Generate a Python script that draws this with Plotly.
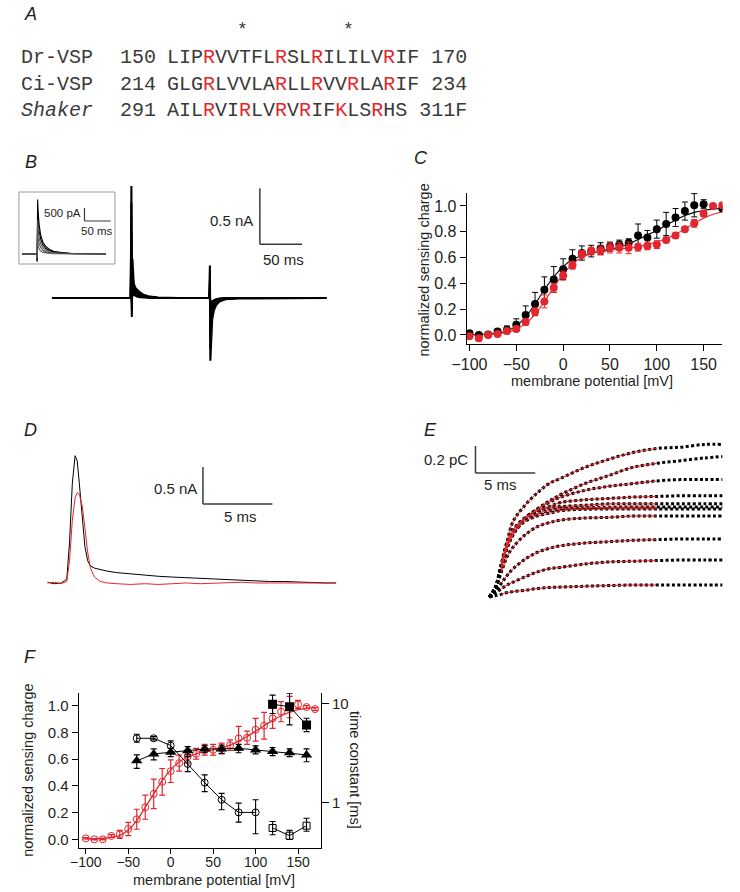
import plotly.graph_objects as go

W, H = 740, 892


def fx(p):
    return p / W


def fy(p):
    return 1 - p / H


RED = "#e3262d"
TXT = "#231f20"
SEQC = "#3a3a3a"
FONT = "Liberation Sans"
MONO = "Liberation Mono"

# ---------------- Panel A : sequences ----------------
seq_names = ["Dr-VSP", "Ci-VSP", "<i>Shaker</i>"]
seq_start = ["150", "214", "291"]
seq_residues = ["LIPRVVTFLRSLRILILVRIF", "GLGRLVVLARLLRVVRLARIF", "AILRVIRLVRVRIFKLSRHS"]
seq_end = ["170", "234", "311F"]
seq_red_idx = [[3, 9, 12, 18], [3, 9, 12, 15, 18], [3, 6, 9, 11, 14, 17]]
asterisk_idx = [6, 15]

# ---------------- Panel B : gating currents ----------------
B_t = [0, 93, 93.8, 94.3, 95, 96.5, 98.5, 101, 104, 108, 114, 125, 150,
       186, 186.8, 187.3, 188, 189.5, 191.5, 194, 198, 205, 220, 325]
B_traces = [
    [0, 0, 1.0, -0.17, 0.35, 0.13, 0.09, 0.07, 0.05, 0.03, 0.015, 0.005, 0,
     0, 0.29, -0.56, -0.38, -0.19, -0.11, -0.065, -0.032, -0.011, -0.004, 0],
    [0, 0, 0.85, -0.1, 0.25, 0.1, 0.07, 0.05, 0.035, 0.02, 0.01, 0.003, 0,
     0, 0.15, -0.45, -0.28, -0.14, -0.085, -0.048, -0.024, -0.008, 0, 0],
    [0, 0, 0.6, -0.05, 0.18, 0.08, 0.05, 0.035, 0.025, 0.015, 0.007, 0.002, 0,
     0, 0.08, -0.32, -0.19, -0.095, -0.057, -0.033, -0.014, -0.005, 0, 0],
    [0, 0, 0.4, -0.03, 0.12, 0.05, 0.035, 0.025, 0.015, 0.008, 0.004, 0, 0,
     0, 0.05, -0.19, -0.11, -0.056, -0.033, -0.019, -0.008, 0, 0, 0],
    [0, 0, 0.2, -0.02, 0.06, 0.03, 0.02, 0.012, 0.007, 0.004, 0.002, 0, 0,
     0, 0.03, -0.09, -0.055, -0.028, -0.017, -0.01, -0.004, 0, 0, 0],
]
B_bar = dict(t0=246, i0=0.48, dt=50, di=0.5)

Bin_t = [0, 28, 29, 30, 31, 33, 36, 40, 45, 52, 60, 75, 95, 160]
Bin_traces = [
    [0, 0, -0.3, 2.1, 1.6, 1.1, 0.7, 0.45, 0.3, 0.18, 0.1, 0.05, 0.02, 0],
    [0, 0, -0.25, 1.7, 1.3, 0.85, 0.55, 0.35, 0.22, 0.13, 0.08, 0.04, 0.015, 0],
    [0, 0, -0.2, 1.3, 0.95, 0.6, 0.38, 0.24, 0.15, 0.09, 0.05, 0.025, 0.01, 0],
    [0, 0, -0.15, 0.9, 0.6, 0.38, 0.24, 0.15, 0.09, 0.05, 0.03, 0.015, 0.005, 0],
    [0, 0, -0.1, 0.5, 0.3, 0.18, 0.11, 0.07, 0.04, 0.02, 0.01, 0.005, 0, 0],
]
Bin_bar = dict(t0=119, i0=1.27, dt=50, di=0.5)

# ---------------- Panel C : Q-V ----------------
C_V_black = [-100, -90, -80, -70, -60, -50, -40, -30, -20, -10, 0, 10, 20, 30, 40,
             50, 60, 70, 80, 90, 100, 110, 120, 130, 140, 150, 170]
C_black = [0.013, 0.0, 0.003, 0.026, 0.04, 0.08, 0.155, 0.24, 0.35, 0.43, 0.51, 0.59,
           0.635, 0.65, 0.67, 0.685, 0.70, 0.715, 0.77, 0.755, 0.82, 0.86, 0.91, 0.96,
           1.005, 1.013, 0.98]
C_black_err = [0.005, 0.005, 0.005, 0.01, 0.03, 0.045, 0.07, 0.09, 0.10, 0.10, 0.08, 0.07,
               0.055, 0.045, 0.045, 0.035, 0.035, 0.03, 0.09, 0.055, 0.07, 0.09, 0.07,
               0.07, 0.09, 0.035, 0.01]
C_V_red = [-100, -90, -80, -70, -60, -50, -40, -30, -20, -10, 0, 10, 20, 30, 40,
           50, 60, 70, 80, 90, 100, 110, 120, 130, 140, 150, 160, 170]
C_red = [-0.01, -0.025, 0.0, 0.008, 0.03, 0.047, 0.10, 0.18, 0.26, 0.365, 0.46, 0.54,
         0.625, 0.65, 0.655, 0.675, 0.675, 0.675, 0.68, 0.69, 0.70, 0.735, 0.77, 0.82,
         0.865, 0.94, 1.0, 1.005]
C_red_err = [0.01, 0.02, 0.01, 0.01, 0.02, 0.02, 0.025, 0.03, 0.05, 0.035, 0.035, 0.03,
             0.03, 0.03, 0.035, 0.04, 0.04, 0.045, 0.03, 0.03, 0.03, 0.02, 0.02, 0.015,
             0.03, 0.02, 0.01, 0.02]
C_fit_V = [-100, -90, -80, -70, -60, -50, -40, -30, -20, -10, 0, 10, 20, 30, 40, 50,
           60, 70, 80, 90, 100, 110, 120, 130, 140, 150, 160, 170]
C_fit_black = [0.002, 0.004, 0.008, 0.015, 0.03, 0.07, 0.14, 0.24, 0.35, 0.45, 0.53, 0.585,
               0.615, 0.635, 0.65, 0.665, 0.68, 0.705, 0.74, 0.775, 0.81, 0.85, 0.89,
               0.925, 0.95, 0.965, 0.975, 0.98]
C_fit_red = [0.0, 0.002, 0.005, 0.01, 0.02, 0.045, 0.09, 0.16, 0.26, 0.37, 0.47, 0.55,
             0.60, 0.63, 0.645, 0.655, 0.665, 0.675, 0.685, 0.70, 0.72, 0.745, 0.78,
             0.82, 0.865, 0.905, 0.935, 0.955]
C_xticks = [-100, -50, 0, 50, 100, 150]
Q_yticks = [0.0, 0.2, 0.4, 0.6, 0.8, 1.0]

# ---------------- Panel D : averaged currents ----------------
D_t = [0, 0.5, 1.0, 1.4, 1.6, 1.8, 2.0, 2.15, 2.3, 2.5, 2.7, 2.9, 3.1, 3.4, 3.8, 4.3, 5,
       6, 7, 8, 9, 10, 11, 12, 13, 14, 15, 16, 17, 18, 19, 20, 20.8]
D_black = [0.01, -0.01, 0.0, 0.05, 0.55, 1.35, 1.72, 1.65, 1.35, 0.9, 0.5, 0.3, 0.23, 0.2,
           0.18, 0.16, 0.14, 0.12, 0.11, 0.09, 0.08, 0.07, 0.06, 0.05, 0.04, 0.04, 0.03,
           0.02, 0.02, 0.01, 0.01, 0.0, 0.0]
D_red = [0.0, 0.01, -0.01, 0.02, 0.3, 0.85, 1.15, 1.22, 1.2, 1.05, 0.75, 0.42, 0.2, 0.08,
         0.02, 0.0, -0.01, -0.02, -0.01, -0.02, -0.01, 0.0, -0.01, 0.0, 0.0, 0.01, 0.0,
         0.0, 0.01, 0.0, 0.0, 0.0, 0.0]
D_bar = dict(t0=11.2, i0=1.067, dt=5, di=0.5)

# ---------------- Panel E : charge integrals ----------------
E_t = [0, 0.5, 1, 1.5, 2, 3, 4, 5, 6, 8, 10, 12, 14, 16, 18, 19.5]
E_traces = [
    [0, .06, .22, .41, .56, .68, .77, .84, .88, .96, 1.02, 1.07, 1.10, 1.11, 1.13, 1.13],
    [0, .06, .21, .37, .47, .58, .65, .71, .76, .84, .90, .96, .99, 1.01, 1.03, 1.04],
    [0, .06, .21, .36, .46, .58, .65, .70, .74, .79, .82, .84, .86, .87, .87, .87],
    [0, .07, .22, .37, .47, .58, .64, .67, .70, .72, .73, .74, .745, .75, .75, .75],
    [0, .07, .24, .41, .50, .59, .64, .66, .67, .68, .69, .69, .69, .69, .69, .69],
    [0, .07, .24, .39, .49, .58, .62, .64, .655, .66, .665, .667, .667, .667, .667, .667],
    [0, .07, .22, .37, .47, .56, .60, .62, .64, .65, .652, .652, .652, .652, .652, .652],
    [0, .06, .18, .30, .37, .46, .52, .55, .57, .585, .59, .60, .60, .60, .60, .60],
    [0, .04, .10, .16, .21, .28, .33, .36, .38, .40, .41, .42, .425, .43, .43, .43],
    [0, .03, .06, .09, .11, .15, .185, .21, .22, .245, .26, .265, .27, .274, .274, .274],
    [0, .01, .02, .033, .04, .05, .063, .07, .074, .08, .085, .089, .089, .089, .089, .089],
]
E_fit_window = (1.0, 14.5)
E_bar = dict(t0=-1.15, q0=0.919, dt=5, dq=0.2)

# ---------------- Panel F : Q-V and time constants ----------------
F_V = [-100, -90, -80, -70, -60, -50, -40, -30, -20, -10, 0, 10, 20, 30, 40, 50, 60, 70,
       80, 90, 100, 110, 120, 130, 140, 150, 160, 170]
F_red = [0.007, 0.0, 0.0, 0.025, 0.037, 0.077, 0.15, 0.24, 0.34, 0.43, 0.51, 0.57, 0.62,
         0.64, 0.67, 0.67, 0.68, 0.705, 0.755, 0.76, 0.82, 0.85, 0.905, 0.955, 0.99,
         1.01, 0.99, 0.975]
F_red_err = [0.005, 0.005, 0.005, 0.01, 0.03, 0.05, 0.075, 0.09, 0.11, 0.1, 0.085, 0.06,
             0.05, 0.04, 0.04, 0.04, 0.04, 0.04, 0.09, 0.05, 0.085, 0.1, 0.075, 0.075,
             0.08, 0.03, 0.01, 0.01]
F_fit = [0.003, 0.004, 0.008, 0.015, 0.03, 0.07, 0.14, 0.24, 0.34, 0.44, 0.52, 0.58,
         0.615, 0.64, 0.655, 0.67, 0.685, 0.705, 0.735, 0.77, 0.81, 0.85, 0.89, 0.925,
         0.95, 0.97, 0.98, 0.985]
F_circ_V = [-40, -20, 0, 20, 40, 60, 80, 100]
F_circ = [4.43, 4.43, 3.74, 2.44, 1.58, 1.06, 0.79, 0.79]
F_circ_hi = [4.86, 4.6, 4.17, 2.89, 1.89, 1.23, 0.98, 1.06]
F_circ_lo = [4.04, 4.27, 3.25, 2.04, 1.28, 0.84, 0.63, 0.48]
F_osq_V = [120, 140, 160]
F_osq = [0.55, 0.46, 0.58]
F_osq_hi = [0.64, 0.52, 0.69]
F_osq_lo = [0.47, 0.42, 0.51]
F_tri_V = [-40, -20, 0, 20, 40, 60, 80, 100, 120, 140, 160]
F_tri = [2.62, 3.08, 3.20, 3.32, 3.46, 3.46, 3.51, 3.38, 3.25, 3.17, 3.01]
F_tri_hi = [3.01, 3.46, 3.51, 3.65, 3.74, 3.79, 3.85, 3.71, 3.57, 3.46, 3.46]
F_tri_lo = [2.2, 2.68, 2.89, 3.01, 3.17, 3.12, 3.17, 3.08, 2.96, 2.89, 2.57]
F_sq_V = [120, 140, 160]
F_sq = [9.77, 9.25, 6.04]
F_sq_hi = [12.1, 12.6, 7.05]
F_sq_lo = [7.9, 6.05, 5.17]
F_tau_ticks = [1, 10]

fig = go.Figure()

# ---- B main
for tr in B_traces:
    fig.add_trace(go.Scatter(x=B_t, y=tr, xaxis="x", yaxis="y", mode="lines",
                             line=dict(color="black", width=2.1), hoverinfo="skip"))
# ---- B inset
for k, tr in enumerate(Bin_traces):
    fig.add_trace(go.Scatter(x=Bin_t, y=tr, xaxis="x2", yaxis="y2", mode="lines",
                             line=dict(color="black" if k < 2 else "#555", width=1.1),
                             hoverinfo="skip"))

# ---- C
fig.add_trace(go.Scatter(x=C_fit_V, y=C_fit_black, xaxis="x3", yaxis="y3", mode="lines",
                         line=dict(color="black", width=1.1, shape="spline"), hoverinfo="skip"))
fig.add_trace(go.Scatter(x=C_fit_V, y=C_fit_red, xaxis="x3", yaxis="y3", mode="lines",
                         line=dict(color=RED, width=1.1, shape="spline"), hoverinfo="skip"))
fig.add_trace(go.Scatter(x=C_V_black, y=C_black, xaxis="x3", yaxis="y3", mode="markers",
                         marker=dict(color="black", size=8),
                         error_y=dict(type="data", array=C_black_err, color="black",
                                      thickness=1, width=3)))
fig.add_trace(go.Scatter(x=C_V_red, y=C_red, xaxis="x3", yaxis="y3", mode="markers",
                         marker=dict(color=RED, size=8),
                         error_y=dict(type="data", array=C_red_err, color=RED,
                                      thickness=1, width=3)))

# ---- D
fig.add_trace(go.Scatter(x=D_t, y=D_black, xaxis="x4", yaxis="y4", mode="lines",
                         line=dict(color="black", width=1), hoverinfo="skip"))
fig.add_trace(go.Scatter(x=D_t, y=D_red, xaxis="x4", yaxis="y4", mode="lines",
                         line=dict(color=RED, width=1), hoverinfo="skip"))

# ---- E
for tr in E_traces:
    fig.add_trace(go.Scatter(x=E_t, y=tr, xaxis="x5", yaxis="y5", mode="lines",
                             line=dict(color="black", width=3, dash="3px,2.4px",
                                       shape="spline"), hoverinfo="skip"))
for tr in E_traces:
    sel = [i for i, t in enumerate(E_t) if E_fit_window[0] <= t <= E_fit_window[1]]
    fig.add_trace(go.Scatter(x=[E_t[i] for i in sel], y=[tr[i] for i in sel],
                             xaxis="x5", yaxis="y5", mode="lines",
                             line=dict(color=RED, width=1, shape="spline"), hoverinfo="skip"))

# ---- F
fig.add_trace(go.Scatter(x=F_V, y=F_fit, xaxis="x6", yaxis="y6", mode="lines",
                         line=dict(color=RED, width=1.3, shape="spline"), hoverinfo="skip"))
fig.add_trace(go.Scatter(x=F_V, y=F_red, xaxis="x6", yaxis="y6", mode="markers",
                         marker=dict(symbol="circle-open", color=RED, size=7,
                                     line=dict(width=1)),
                         error_y=dict(type="data", array=F_red_err, color=RED,
                                      thickness=1.2, width=3)))


def asym(v, hi, lo):
    return dict(type="data", symmetric=False,
                array=[h - x for h, x in zip(hi, v)],
                arrayminus=[x - l for x, l in zip(v, lo)],
                color="black", thickness=1.1, width=3)


fig.add_trace(go.Scatter(x=F_circ_V, y=F_circ, xaxis="x6", yaxis="y7", mode="lines+markers",
                         line=dict(color="black", width=1),
                         marker=dict(symbol="circle-open", color="black", size=7,
                                     line=dict(width=1)),
                         error_y=asym(F_circ, F_circ_hi, F_circ_lo)))
fig.add_trace(go.Scatter(x=F_osq_V, y=F_osq, xaxis="x6", yaxis="y7", mode="lines+markers",
                         line=dict(color="black", width=1),
                         marker=dict(symbol="square-open", color="black", size=7,
                                     line=dict(width=1)),
                         error_y=asym(F_osq, F_osq_hi, F_osq_lo)))
fig.add_trace(go.Scatter(x=F_tri_V, y=F_tri, xaxis="x6", yaxis="y7", mode="lines+markers",
                         line=dict(color="black", width=1),
                         marker=dict(symbol="triangle-up", color="black", size=10),
                         error_y=asym(F_tri, F_tri_hi, F_tri_lo)))
fig.add_trace(go.Scatter(x=F_sq_V, y=F_sq, xaxis="x6", yaxis="y7", mode="lines+markers",
                         line=dict(color="black", width=1),
                         marker=dict(symbol="square", color="black", size=9),
                         error_y=asym(F_sq, F_sq_hi, F_sq_lo)))

# ---------------- annotations ----------------
ann = []


def text(t, x, y, size, xanchor="center", yanchor="middle", color=TXT, family=FONT, angle=0):
    ann.append(dict(text=t, x=fx(x), y=fy(y), xref="paper", yref="paper", showarrow=False,
                    xanchor=xanchor, yanchor=yanchor, textangle=angle, borderpad=0,
                    font=dict(size=size, color=color, family=family)))


# panel letters
for lab, (px, py) in {"A": (16, 14), "B": (16, 162), "C": (414, 158), "D": (16, 430),
                      "E": (424, 430), "F": (15, 657)}.items():
    text("<i>%s</i>" % lab, px, py, 18)

# sequences
CH = 12.05
row_y = [58, 84, 110]
for k in range(3):
    text(seq_names[k], 5, row_y[k], 20, xanchor="left", color=SEQC, family=MONO)
    text(seq_start[k], 106, row_y[k], 20, xanchor="left", color=SEQC, family=MONO)
    s = ""
    for i, ch in enumerate(seq_residues[k]):
        if i in seq_red_idx[k]:
            s += '<span style="color:%s">%s</span>' % (RED, ch)
        else:
            s += ch
    s += "\u00a0" + seq_end[k]
    text(s, 154, row_y[k], 20, xanchor="left", color=SEQC, family=MONO)
for i in asterisk_idx:
    text("*", 154 + (i + 0.5) * CH, 30, 18, color=SEQC, family=MONO)

# B
text("0.5 nA", 221, 220, 15)
text("50 ms", 274.5, 260, 15)
text("500 pA", 68, 213, 11.5, xanchor="right")
text("50 ms", 84, 231, 11.5)
# C
text("normalized sensing charge", 417, 270, 14.5, angle=-90)
text("membrane potential [mV]", 589, 381, 14.5)
# D
text("0.5 nA", 163.5, 488, 15)
text("5 ms", 230, 516, 15)
# E
text("0.2 pC", 463, 459, 15, xanchor="right")
text("5 ms", 496, 484, 15)
# F
text("normalized sensing charge", 13, 770, 14.5, angle=-90)
text("time constant [ms]", 347, 770, 14.5, angle=90)
text("membrane potential [mV]", 203, 880, 14.5)

# ---------------- shapes (scale bars, inset frame) ----------------
shapes = []


def bar(xr, yr, x0, y0, dx, dy, w=1.5):
    shapes.append(dict(type="line", xref=xr, yref=yr, x0=x0, x1=x0, y0=y0, y1=y0 + dy,
                       line=dict(color="#3a3a3a", width=w)))
    shapes.append(dict(type="line", xref=xr, yref=yr, x0=x0, x1=x0 + dx, y0=y0, y1=y0,
                       line=dict(color="#3a3a3a", width=w)))


bar("x", "y", B_bar["t0"], B_bar["i0"], B_bar["dt"], B_bar["di"])
bar("x2", "y2", Bin_bar["t0"], Bin_bar["i0"], Bin_bar["dt"], Bin_bar["di"], w=1.2)
bar("x4", "y4", D_bar["t0"], D_bar["i0"], D_bar["dt"], D_bar["di"])
bar("x5", "y5", E_bar["t0"], E_bar["q0"], E_bar["dt"], E_bar["dq"])
shapes.append(dict(type="rect", xref="paper", yref="paper", x0=fx(4), x1=fx(102),
                   y0=fy(264), y1=fy(192), line=dict(color="#9a9a9a", width=1)))


def axis_style(size, ticklen=6):
    return dict(showline=True, linecolor="black", linewidth=1, ticks="outside",
                ticklen=ticklen, tickwidth=1, tickcolor="black", showgrid=False,
                zeroline=False, tickfont=dict(family=FONT, size=size, color=TXT))


fig.update_layout(
    width=W, height=H, margin=dict(l=0, r=0, t=0, b=0),
    paper_bgcolor="white", plot_bgcolor="white", showlegend=False,
    annotations=ann, shapes=shapes,
    xaxis=dict(domain=[fx(38), fx(318)], range=[0, 325], visible=False),
    yaxis=dict(domain=[fy(375), fy(180)], range=[-0.6875, 1.054], visible=False),
    xaxis2=dict(domain=[fx(7), fx(101)], range=[0, 175], visible=False, anchor="y2"),
    yaxis2=dict(domain=[fy(262), fy(194)], range=[-0.31, 2.31], visible=False, anchor="x2"),
    xaxis3=dict(domain=[fx(461), fx(722)], range=[-103, 170], anchor="y3",
                tickvals=C_xticks, **axis_style(16)),
    yaxis3=dict(domain=[fy(344), fy(193)], range=[-0.07, 1.1], anchor="x3",
                tickvals=Q_yticks, tickformat=".1f", **axis_style(16)),
    xaxis4=dict(domain=[fx(33), fx(328)], range=[0, 20.8], visible=False, anchor="y4"),
    yaxis4=dict(domain=[fy(590), fy(450)], range=[-0.095, 1.797], visible=False, anchor="x4"),
    xaxis5=dict(domain=[fx(460), fx(725)], range=[-1.97, 19.75], visible=False, anchor="y5"),
    yaxis5=dict(domain=[fy(600), fy(440)], range=[-0.022, 1.163], visible=False, anchor="x5"),
    xaxis6=dict(domain=[fx(65), fx(312.3)], range=[-108.4, 177], anchor="y6",
                tickvals=C_xticks, ticklabelstandoff=-4, **axis_style(14, 5)),
    yaxis6=dict(domain=[fy(847.7), fy(693.3)], range=[-0.063, 1.093], anchor="x6",
                tickvals=Q_yticks, tickformat=".1f", **axis_style(15)),
    yaxis7=dict(type="log", range=[-0.459, 1.101], overlaying="y6", side="right",
                anchor="x6", tickvals=F_tau_ticks, ticktext=[str(v) for v in F_tau_ticks],
                **axis_style(15, 7)),
)

fig.write_html("out.html", config={"displayModeBar": False},
               post_script="document.body.style.margin='0';document.body.style.padding='0';")
